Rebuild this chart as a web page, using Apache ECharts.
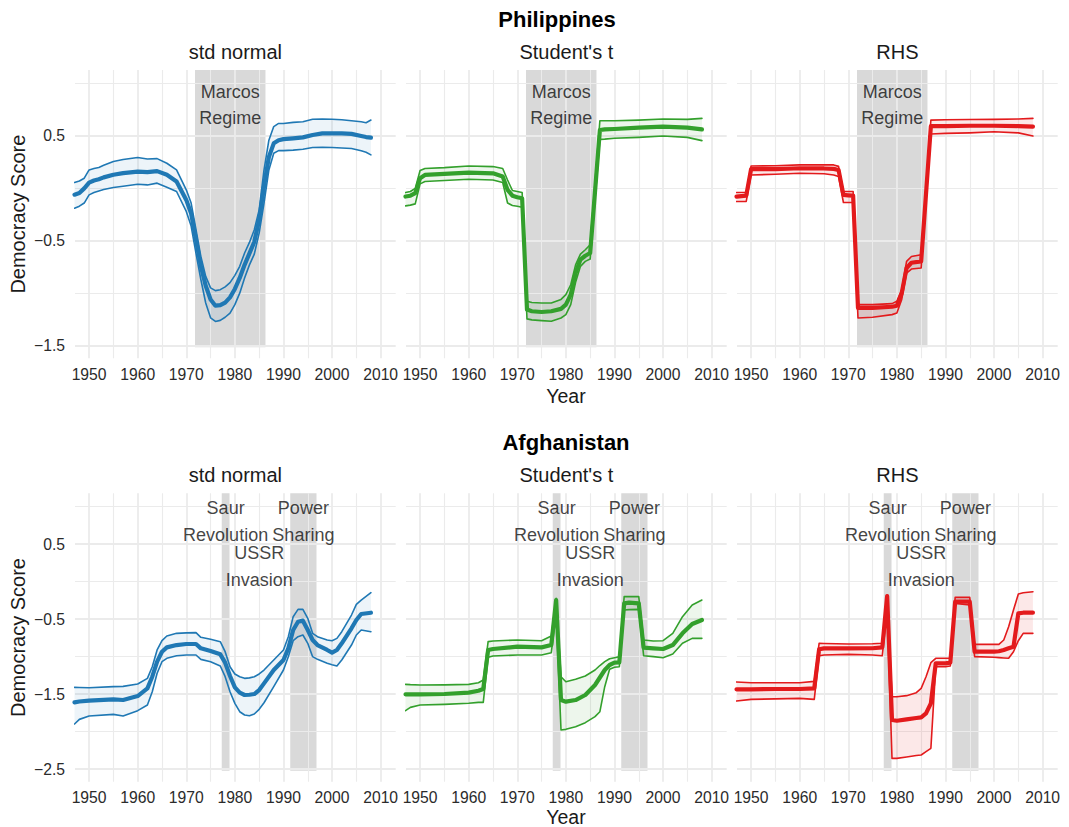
<!DOCTYPE html>
<html><head><meta charset="utf-8">
<script src="https://cdn.jsdelivr.net/npm/echarts@6/dist/echarts.min.js"></script>
<style>html,body{margin:0;padding:0;background:#fff}#c{width:1069px;height:827px}</style>
</head><body><div id="c"></div><script>
// ---------- tick labels / titles ----------
const xTicks = [1950, 1960, 1970, 1980, 1990, 2000, 2010];
const xMinor = [1955, 1965, 1975, 1985, 1995, 2005];
const yTicksTop = [0.5, -0.5, -1.5];
const yMinorTop = [1.0, 0.0, -1.0];
const yTicksBottom = [0.5, -0.5, -1.5, -2.5];
const yMinorBottom = [1.0, 0.0, -1.0, -2.0];
const rowTitles = ['Philippines', 'Afghanistan'];
const panelTitles = ['std normal', "Student's t", 'RHS'];
const xTitle = 'Year';
const yTitle = 'Democracy Score';

// ---------- regimes ----------
const phRegimeStart = [1971.8];
const phRegimeEnd = [1986.3];
const afRegimeStart = [1977.3, 1991.4];
const afRegimeEnd = [1978.9, 1996.8];
const phRegimeFloor = -1.517;
const afRegimeFloor = -2.523;

// ---------- annotations ----------
const phAnnoLabels = ['Marcos\nRegime'];
const phAnnoX = [1979.05];
const phAnnoY = [0.796];
const afAnnoLabels = ['Saur\nRevolution', 'USSR\nInvasion', 'Power\nSharing'];
const afAnnoX = [1978.1, 1985.0, 1994.1];
const afAnnoY = [0.80, 0.20, 0.80];

// ---------- Philippines, std normal ----------
const phNormYears = [1947,1948,1949,1950,1951,1952,1953,1955,1957,1960,1962,1964,1966,1968,1970,1971,1972,1973,1974,1975,1976,1977,1978,1979,1980,1981,1982,1983,1984,1985,1986,1987,1988,1989,1990,1992,1994,1996,1998,2000,2002,2004,2006,2007,2008];
const phNormMean = [-0.06,-0.045,0.0,0.055,0.075,0.087,0.105,0.13,0.145,0.16,0.155,0.165,0.13,0.065,-0.11,-0.24,-0.49,-0.74,-0.93,-1.06,-1.12,-1.115,-1.09,-1.04,-0.96,-0.855,-0.73,-0.62,-0.51,-0.30,0.02,0.30,0.43,0.46,0.47,0.478,0.487,0.51,0.525,0.525,0.525,0.52,0.50,0.49,0.484];
const phNormUpper = [0.056,0.07,0.097,0.176,0.19,0.2,0.22,0.256,0.275,0.294,0.28,0.284,0.24,0.176,-0.014,-0.14,-0.395,-0.65,-0.84,-0.95,-0.976,-0.967,-0.94,-0.90,-0.83,-0.744,-0.617,-0.516,-0.395,-0.205,0.176,0.46,0.59,0.62,0.62,0.63,0.636,0.66,0.662,0.66,0.655,0.646,0.636,0.627,0.652];
const phNormLower = [-0.19,-0.17,-0.14,-0.062,-0.04,-0.024,-0.01,0.008,0.02,0.04,0.033,0.05,0.011,-0.03,-0.22,-0.36,-0.62,-0.87,-1.094,-1.236,-1.27,-1.26,-1.23,-1.19,-1.11,-1.0,-0.856,-0.73,-0.627,-0.427,-0.14,0.176,0.335,0.36,0.36,0.365,0.373,0.39,0.392,0.39,0.385,0.38,0.36,0.345,0.32];

// ---------- Philippines, Student's t ----------
const phTYears = [1947,1948,1949,1950,1951,1955,1960,1965,1967,1968,1969,1970,1971,1972,1973,1975,1977,1979,1980,1981,1982,1983,1984,1985,1987,1988,1990,1995,2000,2005,2008];
const phTMean = [-0.078,-0.07,-0.046,0.097,0.128,0.138,0.15,0.144,0.113,-0.014,-0.07,-0.084,-0.094,-1.157,-1.173,-1.18,-1.173,-1.15,-1.11,-1.014,-0.808,-0.68,-0.643,-0.617,0.557,0.563,0.567,0.58,0.589,0.58,0.563];
const phTUpper = [-0.04,-0.03,0.0,0.17,0.19,0.198,0.214,0.208,0.19,0.08,-0.02,-0.03,-0.04,-1.078,-1.09,-1.094,-1.094,-1.06,-1.014,-0.92,-0.73,-0.627,-0.586,-0.538,0.646,0.646,0.646,0.652,0.662,0.659,0.668];
const phTLower = [-0.167,-0.16,-0.148,0.043,0.065,0.075,0.087,0.08,0.056,-0.14,-0.163,-0.17,-0.18,-1.246,-1.255,-1.262,-1.268,-1.237,-1.205,-1.11,-0.897,-0.744,-0.697,-0.675,0.468,0.47,0.478,0.487,0.5,0.487,0.456];

// ---------- Philippines, RHS ----------
const phRYears = [1947,1949,1950,1955,1960,1965,1967,1968,1969,1970,1971,1972,1975,1979,1980,1981,1982,1983,1985,1987,1990,1995,2000,2005,2008];
const phRMean = [-0.078,-0.07,0.183,0.183,0.192,0.19,0.186,0.176,-0.062,-0.066,-0.07,-1.14,-1.14,-1.13,-1.12,-1.0,-0.76,-0.71,-0.697,0.595,0.595,0.598,0.598,0.595,0.589];
const phRUpper = [-0.04,-0.037,0.214,0.216,0.224,0.224,0.224,0.21,-0.03,-0.03,-0.03,-1.11,-1.11,-1.10,-1.078,-0.967,-0.697,-0.65,-0.633,0.652,0.655,0.658,0.659,0.662,0.668];
const phRLower = [-0.125,-0.125,0.128,0.135,0.144,0.14,0.128,0.113,-0.135,-0.135,-0.135,-1.237,-1.23,-1.205,-1.19,-1.06,-0.808,-0.77,-0.76,0.519,0.525,0.53,0.54,0.53,0.5];

// ---------- Afghanistan, std normal ----------
const afNormYears = [1947,1948,1950,1955,1957,1960,1962,1963,1964,1965,1966,1968,1970,1972,1973,1975,1977,1978,1979,1980,1981,1982,1983,1984,1985,1986,1988,1990,1991,1992,1993,1994,1995,1996,1997,1999,2000,2001,2002,2004,2005,2006,2008];
const afNormMean = [-1.611,-1.60,-1.589,-1.571,-1.58,-1.527,-1.424,-1.269,-1.069,-0.936,-0.878,-0.847,-0.833,-0.833,-0.891,-0.927,-0.971,-1.082,-1.26,-1.411,-1.482,-1.513,-1.51,-1.5,-1.447,-1.358,-1.18,-1.047,-0.891,-0.647,-0.536,-0.522,-0.647,-0.78,-0.847,-0.913,-0.949,-0.913,-0.824,-0.624,-0.513,-0.433,-0.416];
const afNormUpper = [-1.411,-1.413,-1.416,-1.402,-1.398,-1.367,-1.291,-1.136,-0.913,-0.789,-0.727,-0.691,-0.685,-0.682,-0.744,-0.771,-0.802,-0.936,-1.136,-1.233,-1.27,-1.291,-1.285,-1.269,-1.233,-1.18,-1.047,-0.913,-0.736,-0.469,-0.371,-0.371,-0.491,-0.691,-0.736,-0.78,-0.789,-0.758,-0.669,-0.447,-0.304,-0.247,-0.149];
const afNormLower = [-1.9,-1.838,-1.793,-1.771,-1.793,-1.722,-1.647,-1.469,-1.224,-1.069,-1.024,-0.99,-0.98,-0.98,-1.038,-1.069,-1.127,-1.269,-1.469,-1.624,-1.736,-1.78,-1.789,-1.767,-1.704,-1.616,-1.402,-1.18,-1.002,-0.789,-0.736,-0.713,-0.824,-1.002,-1.038,-1.091,-1.11,-1.127,-1.047,-0.847,-0.713,-0.647,-0.669];

// ---------- Afghanistan, Student's t ----------
const afTYears = [1947,1948,1950,1955,1960,1962,1963,1964,1965,1970,1975,1977,1978,1979,1980,1982,1984,1986,1987,1988,1989,1990,1991,1992,1993,1995,1996,1998,2000,2002,2004,2006,2008];
const afTMean = [-1.504,-1.504,-1.504,-1.5,-1.482,-1.456,-1.433,-0.913,-0.9,-0.869,-0.878,-0.847,-0.247,-1.58,-1.602,-1.58,-1.513,-1.38,-1.28,-1.18,-1.113,-1.082,-1.078,-0.291,-0.282,-0.291,-0.882,-0.891,-0.9,-0.847,-0.691,-0.567,-0.513];
const afTUpper = [-1.371,-1.375,-1.38,-1.378,-1.371,-1.349,-1.313,-0.802,-0.793,-0.78,-0.789,-0.727,-0.224,-1.269,-1.336,-1.304,-1.26,-1.18,-1.12,-1.069,-1.03,-1.016,-1.002,-0.202,-0.202,-0.202,-0.78,-0.793,-0.789,-0.691,-0.469,-0.313,-0.247];
const afTLower = [-1.722,-1.678,-1.647,-1.638,-1.624,-1.611,-1.611,-1.011,-0.993,-0.98,-0.98,-0.949,-0.424,-1.98,-1.971,-1.936,-1.882,-1.802,-1.736,-1.402,-1.171,-1.144,-1.136,-0.38,-0.375,-0.371,-0.989,-1.002,-1.016,-0.967,-0.824,-0.758,-0.758];

// ---------- Afghanistan, RHS ----------
const afRYears = [1947,1950,1955,1960,1963,1964,1965,1970,1975,1977,1978,1979,1980,1982,1984,1985,1986,1987,1988,1990,1991,1992,1995,1996,2000,2001,2002,2003,2004,2005,2006,2008];
const afRMean = [-1.438,-1.438,-1.433,-1.433,-1.424,-0.904,-0.891,-0.891,-0.89,-0.878,-0.193,-1.847,-1.856,-1.838,-1.82,-1.811,-1.758,-1.624,-1.091,-1.091,-1.082,-0.269,-0.269,-0.936,-0.936,-0.93,-0.913,-0.89,-0.869,-0.424,-0.416,-0.416];
const afRUpper = [-1.34,-1.349,-1.349,-1.349,-1.331,-0.824,-0.826,-0.833,-0.83,-0.824,-0.18,-1.536,-1.536,-1.522,-1.482,-1.424,-1.269,-1.082,-1.024,-1.024,-1.024,-0.211,-0.211,-0.838,-0.838,-0.838,-0.78,-0.602,-0.38,-0.167,-0.15,-0.136];
const afRLower = [-1.593,-1.571,-1.565,-1.558,-1.571,-0.989,-0.98,-0.971,-0.98,-0.989,-0.38,-2.358,-2.358,-2.34,-2.32,-2.313,-2.269,-2.224,-1.136,-1.136,-1.127,-0.291,-0.313,-1.002,-1.01,-1.015,-1.02,-1.024,-0.936,-0.789,-0.691,-0.691];

// ---------- assembly ----------
const colors = ['#1f78b4', '#33a02c', '#e31a1c'];
const bandFills = ['rgba(31,120,180,0.08)', 'rgba(51,160,44,0.09)', 'rgba(227,26,28,0.10)'];
const panels = [
  {y: phNormYears, m: phNormMean, u: phNormUpper, l: phNormLower},
  {y: phTYears, m: phTMean, u: phTUpper, l: phTLower},
  {y: phRYears, m: phRMean, u: phRUpper, l: phRLower},
  {y: afNormYears, m: afNormMean, u: afNormUpper, l: afNormLower},
  {y: afTYears, m: afTMean, u: afTUpper, l: afTLower},
  {y: afRYears, m: afRMean, u: afRUpper, l: afRLower}
];
const rowCfg = [
  {top: 70, height: 288.3, min: -1.622, max: 1.13, ticks: yTicksTop, minor: yMinorTop,
   rs: phRegimeStart, re: phRegimeEnd, floor: phRegimeFloor,
   al: phAnnoLabels, ax: phAnnoX, ay: phAnnoY, titleY: 19, stripY: 52, xlabY: 406},
  {top: 493.3, height: 288.4, min: -2.669, max: 1.176, ticks: yTicksBottom, minor: yMinorBottom,
   rs: afRegimeStart, re: afRegimeEnd, floor: afRegimeFloor,
   al: afAnnoLabels, ax: afAnnoX, ay: afAnnoY, titleY: 442, stripY: 475, xlabY: 827}
];
const colLeft = [75, 406, 737];
const panelW = 320.7;
const xMin = 1947.1, xMax = 2013.1;
const FONT = '"Liberation Sans", Arial, Helvetica, sans-serif';
const gridColor = '#ebebeb';

const grid = [], xAxis = [], yAxis = [], series = [], graphic = [];
for (let r = 0; r < 2; r++) {
  const rc = rowCfg[r];
  for (let c = 0; c < 3; c++) {
    const i = r * 3 + c;
    const P = panels[i];
    grid.push({left: colLeft[c], top: rc.top, width: panelW, height: rc.height, containLabel: false});
    xAxis.push({
      type: 'value', gridIndex: i, min: xMin, max: xMax,
      axisLine: {show: false}, axisTick: {show: false}, splitLine: {show: false},
      axisLabel: {customValues: xTicks, color: '#2b2b2b', fontSize: 15.7, fontFamily: FONT, margin: 8,
        formatter: v => String(v)}
    });
    yAxis.push({
      type: 'value', gridIndex: i, min: rc.min, max: rc.max,
      axisLine: {show: false}, axisTick: {show: false}, splitLine: {show: false},
      axisLabel: {show: c === 0, customValues: rc.ticks, color: '#2b2b2b', fontSize: 15.7, fontFamily: FONT, margin: 10,
        formatter: v => String(v).replace('-', '\u2212')}
    });
    // regime shading
    series.push({
      type: 'line', xAxisIndex: i, yAxisIndex: i, data: [], z: 1, silent: true,
      markArea: {silent: true, z: 1, itemStyle: {color: '#d9d9d9'}, label: {show: false},
        data: rc.rs.map((s, k) => [{xAxis: s, yAxis: rc.floor}, {xAxis: rc.re[k], yAxis: rc.max}])}
    });
    // gridlines
    const gl = [];
    xTicks.forEach(v => gl.push({xAxis: v, lineStyle: {color: gridColor, width: 1.8, type: 'solid'}}));
    xMinor.forEach(v => gl.push({xAxis: v, lineStyle: {color: gridColor, width: 1.1, type: 'solid'}}));
    rc.ticks.forEach(v => gl.push({yAxis: v, lineStyle: {color: gridColor, width: 1.8, type: 'solid'}}));
    rc.minor.forEach(v => gl.push({yAxis: v, lineStyle: {color: gridColor, width: 1.1, type: 'solid'}}));
    series.push({
      type: 'line', xAxisIndex: i, yAxisIndex: i, data: [], z: 2, silent: true,
      markLine: {silent: true, z: 2, symbol: ['none', 'none'], label: {show: false}, animation: false, data: gl}
    });
    // band polygon
    series.push({
      type: 'custom', xAxisIndex: i, yAxisIndex: i, z: 3, silent: true,
      data: [[P.y[0], P.u[0]]],
      renderItem: (params, api) => {
        const pts = [];
        for (let k = 0; k < P.y.length; k++) pts.push(api.coord([P.y[k], P.u[k]]));
        for (let k = P.y.length - 1; k >= 0; k--) pts.push(api.coord([P.y[k], P.l[k]]));
        return {type: 'polygon', shape: {points: pts}, style: {fill: bandFills[c], stroke: null}};
      }
    });
    const mk = (vals, w, z) => ({
      type: 'line', xAxisIndex: i, yAxisIndex: i, z: z, silent: true, showSymbol: false,
      data: P.y.map((yr, k) => [yr, vals[k]]),
      lineStyle: {color: colors[c], width: w, join: 'round', cap: 'round'}, itemStyle: {color: colors[c]}
    });
    series.push(mk(P.u, 1.6, 4));
    series.push(mk(P.l, 1.6, 4));
    series.push(mk(P.m, 4.2, 5));
    // annotations
    series.push({
      type: 'scatter', xAxisIndex: i, yAxisIndex: i, z: 6, silent: true, symbolSize: 0,
      itemStyle: {color: 'rgba(0,0,0,0)'},
      data: rc.al.map((t, k) => [rc.ax[k], rc.ay[k], t]),
      label: {show: true, position: 'inside', formatter: p => p.data[2], color: '#111',
        textBorderWidth: 0, textShadowBlur: 0,
        fontSize: 18, fontFamily: FONT, lineHeight: 26.5, align: 'center', verticalAlign: 'middle'}
    });
    // strip title
    graphic.push({type: 'text', x: colLeft[c] + panelW / 2, y: rc.stripY,
      style: {text: panelTitles[c], font: '20px ' + FONT, fill: '#1a1a1a', align: 'center', verticalAlign: 'middle'}});
  }
  graphic.push({type: 'text', x: r === 0 ? 557 : 566, y: rc.titleY,
    style: {text: rowTitles[r], font: 'bold 22px ' + FONT, fill: '#000', align: 'center', verticalAlign: 'middle'}});
  graphic.push({type: 'text', x: 566, y: rc.xlabY,
    style: {text: xTitle, font: '19.5px ' + FONT, fill: '#1a1a1a', align: 'center', verticalAlign: 'bottom'}});
  graphic.push({type: 'text', x: 18, y: rc.top + rc.height / 2, rotation: Math.PI / 2,
    style: {text: yTitle, font: '20px ' + FONT, fill: '#1a1a1a', align: 'center', verticalAlign: 'middle'}});
}

const chart = echarts.init(document.getElementById('c'), null, {renderer: 'svg'});
chart.setOption({animation: false, backgroundColor: '#fff', grid, xAxis, yAxis, series, graphic});
</script></body></html>
